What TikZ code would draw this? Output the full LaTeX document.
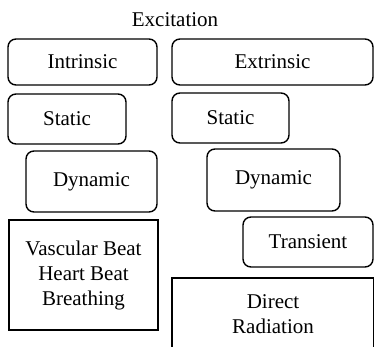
\documentclass[tikz,border=0pt]{standalone}
\usepackage{fontspec}
\setmainfont{Liberation Serif}
\begin{document}
\begin{tikzpicture}[x=1pt,y=-1pt,
  txt/.style={font=\fontsize{21}{25}\selectfont},
  box/.style={txt, draw, line width=1.4pt, rounded corners=8pt, inner sep=0pt, align=center},
  sqbox/.style={txt, draw, line width=1.4pt, inner sep=0pt, align=center},
  lbl/.style={txt, inner sep=0pt}]
\useasboundingbox (0,0) rectangle (374,347);
\clip (0,0) rectangle (374,347);
\node[lbl] (exc) at (175,20) {Excitation};
\node[box, minimum width=149pt, minimum height=46pt] (intr) at (82.5,62) {Intrinsic};
\node[box, minimum width=201pt, minimum height=46pt] (extr) at (272.5,62) {Extrinsic};
\node[box, minimum width=118pt, minimum height=50pt] (statL) at (67,119) {Static};
\node[box, minimum width=117pt, minimum height=50pt] (statR) at (230.5,118) {Static};
\node[box, minimum width=131pt, minimum height=61pt] (dynL) at (91.5,181.5) {Dynamic};
\node[box, minimum width=133pt, minimum height=62pt] (dynR) at (273.5,180) {Dynamic};
\node[box, minimum width=130pt, minimum height=50pt] (trans) at (308,242) {Transient};
\node[sqbox, minimum width=149pt, minimum height=110pt] (vasc) at (83.5,275) {Vascular Beat\\Heart Beat\\Breathing};
\node[sqbox, minimum width=202pt, minimum height=72pt] (dir) at (273,314) {Direct\\Radiation};
\end{tikzpicture}
\end{document}
